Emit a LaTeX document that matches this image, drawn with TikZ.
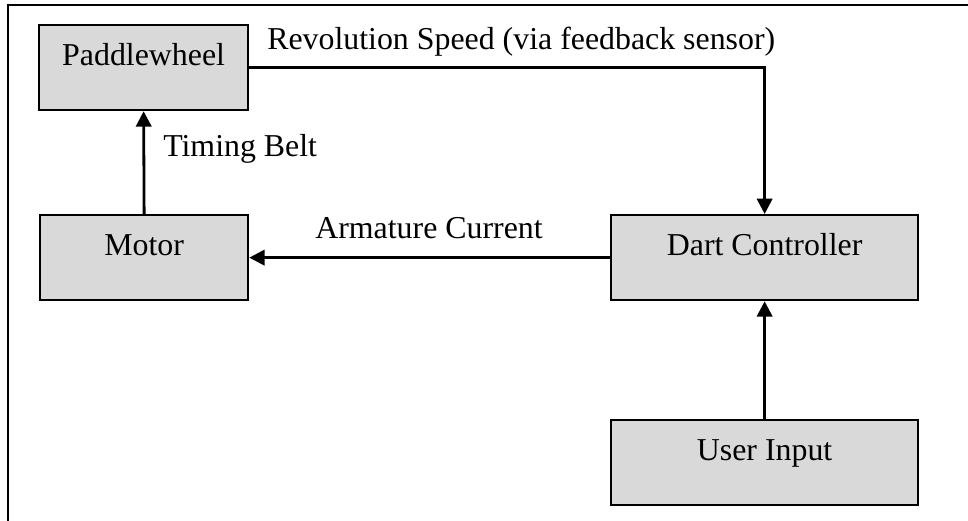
\documentclass[tikz,border=0pt]{standalone}
\usepackage{fontspec}
\setmainfont{Liberation Serif}
\usetikzlibrary{arrows.meta}
\definecolor{boxgray}{RGB}{217,217,217}
\begin{document}
\begin{tikzpicture}[x=0.75pt,y=-0.75pt,
  every node/.style={font=\fontsize{23.9}{28}\selectfont},
  blk/.style={draw=black, line width=1.7pt, fill=boxgray, inner sep=0pt,
    anchor=north west, text height=30.5pt, text depth=33.25pt, minimum width=#1},
  lbl/.style={inner sep=0pt},
  conn/.style={line width=2.1pt, -{Triangle[length=11.5pt,width=11.5pt]}}]
\useasboundingbox (0,0) rectangle (968,521);
\draw[line width=1.6pt] (968,5) -- (8,5) -- (8,521);
\node[blk=156.75pt] (P) at (38,24) {Paddlewheel};
\node[blk=156pt] (M) at (39,214) {Motor};
\node[blk=230.25pt] (D) at (610,214) {Dart Controller};
\node[blk=230.25pt] (U) at (610,419) {User Input};
\draw[conn] (P.east) -| (D.north);
\draw[conn] (M.north) -- (P.south);
\draw[conn] (D.west) -- (M.east);
\draw[conn] (U.north) -- (D.south);
\node[lbl, anchor=base west] (rs) at (267,49) {Revolution Speed (via feedback sensor)};
\node[lbl, anchor=base west] (tb) at (163,156) {Timing Belt};
\node[lbl, anchor=base] (ac) at (429,238) {Armature Current};
\end{tikzpicture}
\end{document}
